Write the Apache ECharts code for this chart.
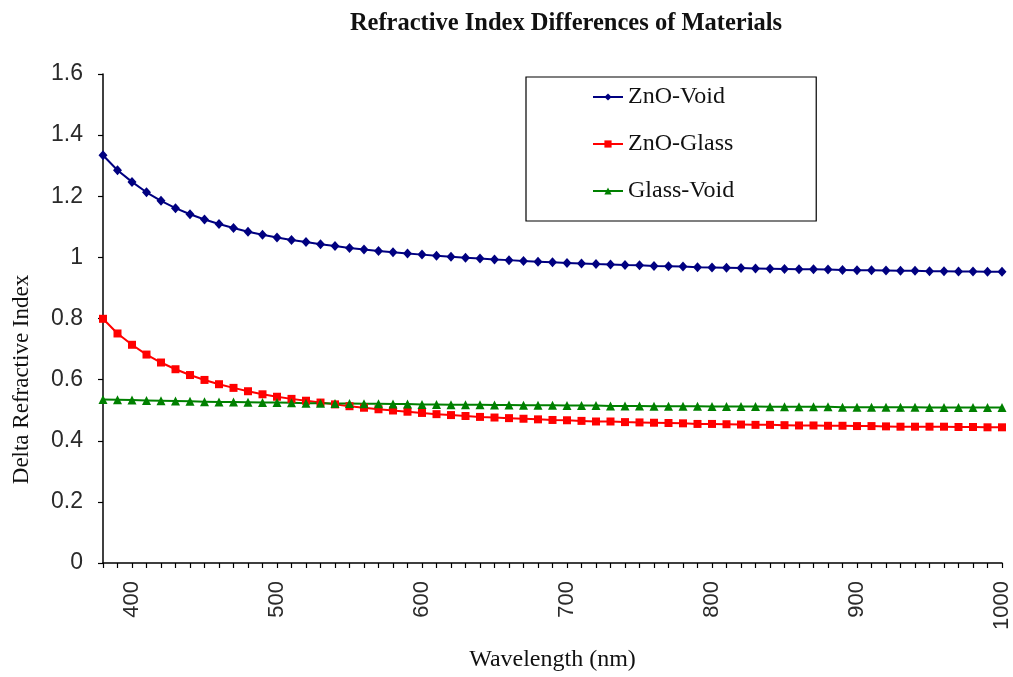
<!DOCTYPE html>
<html>
<head>
<meta charset="utf-8">
<script src="https://cdn.jsdelivr.net/npm/echarts@6/dist/echarts.min.js"></script>
<style>
  html, body { margin: 0; padding: 0; background: #fff; }
  #chart { width: 1013px; height: 677px; }
</style>
</head>
<body>
<div id="chart"></div>
<script>
const wavelengths = ['380','390','400','410','420','430','440','450','460','470',
  '480','490','500','510','520','530','540','550','560','570',
  '580','590','600','610','620','630','640','650','660','670',
  '680','690','700','710','720','730','740','750','760','770',
  '780','790','800','810','820','830','840','850','860','870',
  '880','890','900','910','920','930','940','950','960','970',
  '980','990','1000'];

const znoVoid = [1.334,1.285,1.247,1.213,1.185,1.161,1.141,1.124,1.109,1.096,
  1.084,1.074,1.065,1.057,1.050,1.043,1.037,1.031,1.026,1.021,
  1.017,1.013,1.009,1.005,1.002,0.999,0.996,0.993,0.991,0.988,
  0.986,0.984,0.982,0.980,0.978,0.977,0.975,0.974,0.972,0.971,
  0.970,0.968,0.967,0.966,0.965,0.964,0.963,0.962,0.961,0.961,
  0.960,0.959,0.958,0.958,0.957,0.956,0.956,0.955,0.955,0.954,
  0.954,0.953,0.953];

const znoGlass = [0.799,0.751,0.714,0.682,0.656,0.634,0.615,0.599,0.585,0.573,
  0.562,0.552,0.544,0.537,0.531,0.525,0.519,0.513,0.508,0.503,
  0.499,0.495,0.491,0.487,0.484,0.481,0.478,0.476,0.474,0.472,
  0.470,0.468,0.467,0.465,0.463,0.463,0.461,0.460,0.459,0.458,
  0.457,0.455,0.455,0.454,0.453,0.452,0.452,0.451,0.450,0.450,
  0.449,0.449,0.448,0.448,0.447,0.446,0.446,0.446,0.446,0.445,
  0.445,0.444,0.444];

const glassVoid = [0.535,0.534,0.533,0.532,0.531,0.530,0.529,0.528,0.527,0.527,
  0.526,0.525,0.525,0.524,0.523,0.523,0.522,0.522,0.521,0.521,
  0.520,0.520,0.519,0.519,0.518,0.518,0.518,0.517,0.517,0.516,
  0.516,0.516,0.515,0.515,0.515,0.514,0.514,0.514,0.513,0.513,
  0.513,0.513,0.512,0.512,0.512,0.512,0.511,0.511,0.511,0.511,
  0.511,0.510,0.510,0.510,0.510,0.510,0.510,0.509,0.509,0.509,
  0.509,0.509,0.509];

const xTickLabels = ['400','500','600','700','800','900','1000'];
const seriesNames = ['ZnO-Void', 'ZnO-Glass', 'Glass-Void'];

const serif = '"Liberation Serif", "Times New Roman", serif';
const sans = '"Liberation Sans", Arial, sans-serif';

const chart = echarts.init(document.getElementById('chart'), null, { renderer: 'canvas' });
chart.setOption({
  animation: false,
  backgroundColor: '#ffffff',
  title: {
    text: 'Refractive Index Differences of Materials',
    left: 561, top: 6, textAlign: 'center',
    textStyle: { fontFamily: serif, fontWeight: 'bold', fontSize: 24.5, color: '#111' }
  },
  legend: {
    orient: 'vertical',
    left: 526, top: 77,
    padding: [8, 82, 18, 66],
    itemGap: 23,
    itemWidth: 30, itemHeight: 9,
    borderColor: '#000', borderWidth: 1.2,
    backgroundColor: '#fff',
    textStyle: { fontFamily: serif, fontSize: 24, color: '#111', lineHeight: 24 },
    data: seriesNames
  },
  grid: { left: 103, right: 5, top: 74, bottom: 113, containLabel: false },
  xAxis: {
    type: 'category',
    data: wavelengths,
    boundaryGap: false,
    name: 'Wavelength (nm)',
    nameLocation: 'middle',
    nameGap: 85,
    nameTextStyle: { fontFamily: serif, fontSize: 24, color: '#111' },
    axisLine: { lineStyle: { color: '#000', width: 1.5 } },
    axisTick: { interval: 0, length: 5, inside: false, lineStyle: { color: '#000', width: 1.2 } },
    axisLabel: {
      rotate: 90,
      margin: 18,
      interval: function (idx, val) { return xTickLabels.indexOf(val) >= 0; },
      fontFamily: sans, fontSize: 22, color: '#2a2a2a'
    },
    splitLine: { show: false }
  },
  yAxis: {
    type: 'value',
    min: 0, max: 1.6, interval: 0.2,
    name: 'Delta Refractive Index',
    nameLocation: 'middle',
    nameGap: 70,
    nameTextStyle: { fontFamily: serif, fontSize: 23, color: '#111', padding: [0, 122, 0, 0] },
    axisLine: { show: true, lineStyle: { color: '#000', width: 1.5 } },
    axisTick: { show: true, length: 5, inside: false, lineStyle: { color: '#000', width: 1.2 } },
    axisLabel: { margin: 20, fontFamily: sans, fontSize: 23, color: '#2a2a2a' },
    splitLine: { show: false }
  },
  series: [
    {
      name: seriesNames[0], type: 'line', data: znoVoid,
      symbol: 'diamond', symbolSize: [9, 10], showAllSymbol: true,
      lineStyle: { color: '#000080', width: 2 },
      itemStyle: { color: '#000080' }
    },
    {
      name: seriesNames[1], type: 'line', data: znoGlass,
      symbol: 'rect', symbolSize: 8, showAllSymbol: true,
      lineStyle: { color: '#ff0000', width: 2 },
      itemStyle: { color: '#ff0000' }
    },
    {
      name: seriesNames[2], type: 'line', data: glassVoid,
      symbol: 'triangle', symbolSize: 9, showAllSymbol: true,
      lineStyle: { color: '#008000', width: 2 },
      itemStyle: { color: '#008000' }
    }
  ]
});
</script>
</body>
</html>
